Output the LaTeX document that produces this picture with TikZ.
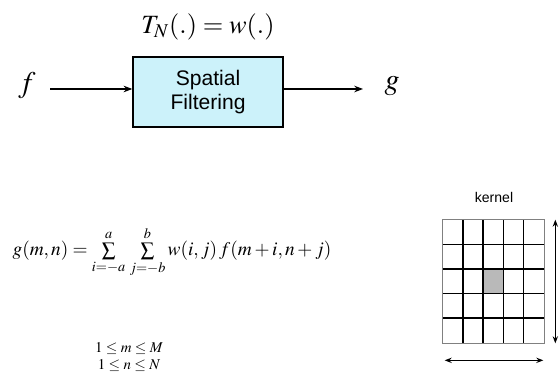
\documentclass[tikz,border=0pt]{standalone}
\usepackage{mathptmx}
\usepackage{fontspec}
\setmainfont{Liberation Serif}
\setsansfont{Liberation Sans}
\usetikzlibrary{arrows.meta, positioning}
\definecolor{filtercyan}{RGB}{204,242,250}
\tikzset{
  signal/.style={font=\fontsize{17}{18}\selectfont},
  bound/.style={font=\fontsize{8.5}{10}\selectfont, inner sep=1pt},
  flow/.style={->, semithick, >={Stealth[length=5pt]}},
  span/.style={<->, semithick, >={Stealth[length=4pt]}}
}
\begin{document}
\begin{tikzpicture}[x=0.02cm, y=-0.02cm]
\useasboundingbox (0,0) rectangle (559,388);
% block diagram
\node[draw, thick, fill=filtercyan, minimum width=3cm, minimum height=1.4cm, align=center,
      font=\sffamily\fontsize{12}{14}\selectfont] (filter) at (208,92) {Spatial\\Filtering};
\node[font=\fontsize{15}{16}\selectfont] (title) at (208,27) {$T_N(.) = w(.)$};
\node[signal] (f) at (27,86) {$f$};
\node[signal] (g) at (392,86) {$g$};
\coordinate (fin) at (50,89);
\coordinate (gout) at (363,89);
\draw[flow] (fin) -- (filter.west |- fin);
\draw[flow] (filter.east |- gout) -- (gout);
% formula
\node[font=\fontsize{11}{13}\selectfont] (sum) at (172,252)
  {$g(m,n) = \sum\limits_{i=-a}^{a}\,\sum\limits_{j=-b}^{b} w(i,j)\,f(m+i,n+j)$};
\node[bound] (mrange) at (129,348) {$1 \le m \le M$};
\node[bound] (nrange) at (129,365) {$1 \le n \le N$};
% kernel
\node[font=\sffamily\fontsize{8}{9}\selectfont] (label) at (494,197) {kernel};
\node[minimum width=2.02cm, minimum height=2.46cm, inner sep=0pt] (grid) at (493.5,281.5) {};
\fill[gray!55] (483.4,269.2) rectangle (503.6,293.8);
\foreach \k in {1,...,4} {
  \draw[thick] ([xshift=\k*0.404cm]grid.north west) -- ([xshift=\k*0.404cm]grid.south west);
  \draw[thick] ([yshift=-\k*0.492cm]grid.north west) -- ([yshift=-\k*0.492cm]grid.north east);
}
\draw[gray, thick] (grid.north west) rectangle (grid.south east);
\draw[span] ([xshift=0.22cm]grid.north east) -- ([xshift=0.22cm]grid.south east);
\draw[span] ([xshift=0.04cm, yshift=-0.34cm]grid.south west) -- ([xshift=-0.02cm, yshift=-0.34cm]grid.south east);
\end{tikzpicture}
\end{document}
